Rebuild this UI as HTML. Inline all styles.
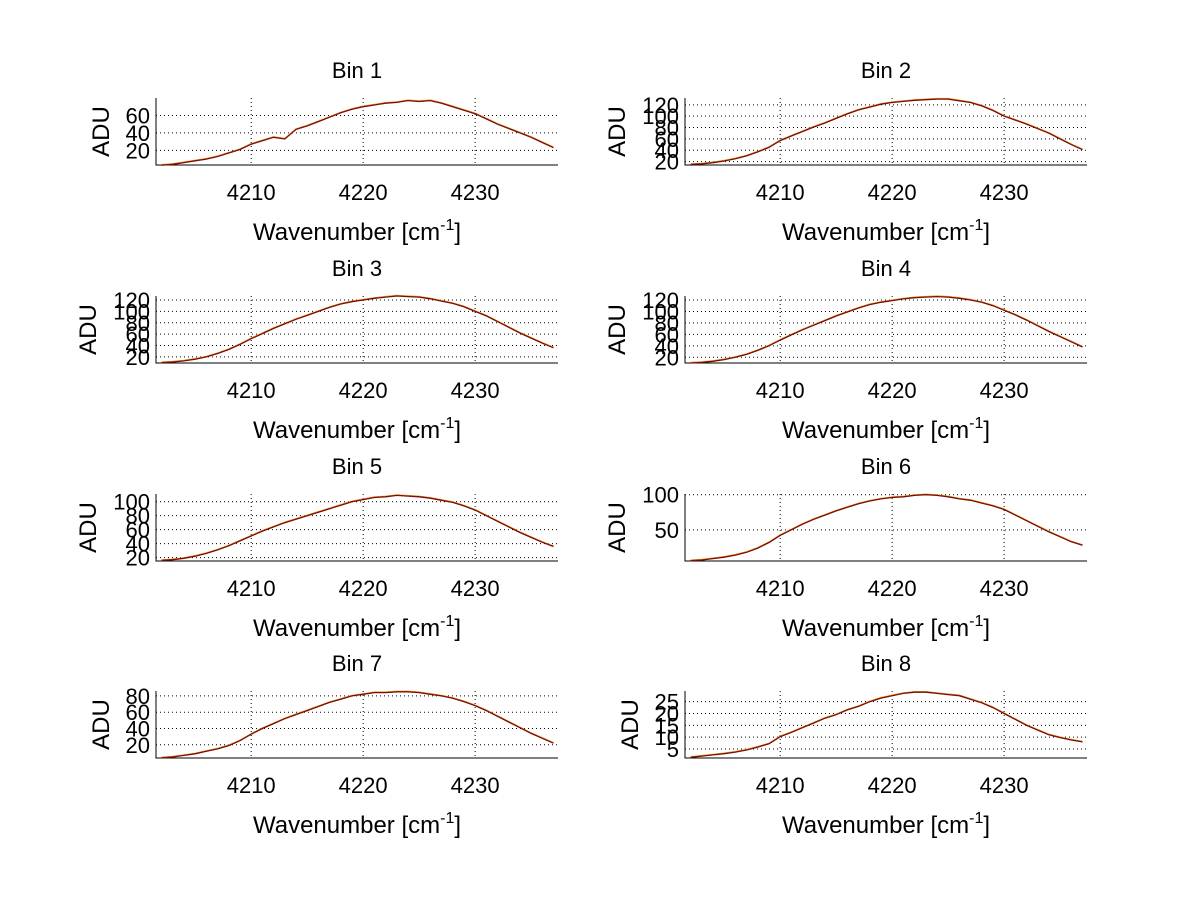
<!DOCTYPE html>
<html><head><meta charset="utf-8"><style>
html,body{margin:0;padding:0;background:#fff;}
svg{display:block;font-family:"Liberation Sans",Arial,sans-serif;}
</style></head><body>
<svg id="fig" width="1200" height="901" viewBox="0 0 1200 901"></svg>
<script>
const wavenumbers=[4202,4203,4204,4205,4206,4207,4208,4209,4210,4211,4212,4213,4214,4215,4216,4217,4218,4219,4220,4221,4222,4223,4224,4225,4226,4227,4228,4229,4230,4231,4232,4233,4234,4235,4236,4237];
const xTicks=[4210,4220,4230];
const bin1=[3,4,6,8,10,13,17,21,27,31,35,33,44,48,53,58,63,67,70,72,74,75,77,76,77,74,70,66,62,56,50,45,40,35,29,23];
const bin2=[15,16,18,21,25,30,37,45,57,65,73,81,88,96,104,111,116,121,124,126,128,129,130,130,127,124,118,110,100,93,86,78,70,60,50,41];
const bin3=[10,11,13,16,20,26,33,42,52,61,70,78,86,93,100,107,113,117,120,123,125,127,126,125,122,118,114,108,100,92,82,72,62,53,44,36];
const bin4=[10,11,13,16,20,25,32,40,50,59,68,76,84,92,99,106,112,116,119,122,124,125,126,125,123,120,116,110,102,94,85,75,65,56,47,38];
const bin5=[16,17,19,22,26,31,37,44,51,58,64,70,75,80,85,90,95,100,103,106,107,109,108,107,105,102,99,94,88,80,72,64,56,49,42,36];
const bin6=[6,7,9,11,14,18,24,32,42,50,58,65,71,77,82,87,91,94,96,97,99,100,99,97,94,92,88,84,79,71,63,55,47,40,33,28];
const bin7=[4,5,7,9,12,15,19,25,33,40,46,52,57,62,67,72,76,80,82,84,84,85,85,84,82,80,77,73,68,62,55,48,41,34,28,22];
const bin8=[1.5,2,2.5,3,3.7,4.6,5.8,7.2,10.2,12,14,16,18,19.5,21.5,23,25,26.5,27.5,28.5,29,29,28.5,28,27.5,26,24.5,22.5,20,17.5,15,13,11,9.8,8.8,8];
const binNames=["Bin 1","Bin 2","Bin 3","Bin 4","Bin 5","Bin 6","Bin 7","Bin 8"];
const binSeries=[bin1,bin2,bin3,bin4,bin5,bin6,bin7,bin8];
const yTicks=[[20,40,60],[20,40,60,80,100,120],[20,40,60,80,100,120],[20,40,60,80,100,120],[20,40,60,80,100],[50,100],[20,40,60,80],[5,10,15,20,25]];
const yLimits=[[3.2,80],[14,132],[9.3,127],[10,127],[15.2,111],[5.6,101],[3.8,86],[1.2,29.5]];
const xLimits=[4201.5,4237.4];

const NS="http://www.w3.org/2000/svg";
const svg=document.getElementById('fig');
function mk(tag,attrs,parent){const e=document.createElementNS(NS,tag);for(const k in attrs)e.setAttribute(k,attrs[k]);(parent||svg).appendChild(e);return e;}
const colX=[156,685], axW=402, rowTop=[98,296,494,691], axH=67;

binSeries.forEach((vals,i)=>{
  const col=i%2,row=Math.floor(i/2);
  const L=colX[col],T=rowTop[row],B=T+axH,R=L+axW;
  const [y0,y1]=yLimits[i];
  const sx=v=>L+(v-xLimits[0])/(xLimits[1]-xLimits[0])*axW;
  const sy=v=>B-(v-y0)/(y1-y0)*axH;
  const g=mk('g',{});
  
  
  yTicks[i].forEach(t=>{
    const l=mk('line',{x1:L,x2:R,y1:sy(t),y2:sy(t),stroke:'#000','stroke-width':1,'stroke-dasharray':'1,3'},g);
    
    
    const tl=mk('text',{x:L-6,y:sy(t)+8,'text-anchor':'end','font-size':22},g);
    tl.textContent=t;
    
    
  });
  xTicks.forEach(t=>{
    const l=mk('line',{x1:sx(t),x2:sx(t),y1:T,y2:B,stroke:'#000','stroke-width':1,'stroke-dasharray':'1,3'},g);
    
    
    const tl=mk('text',{x:sx(t),y:B+35,'text-anchor':'middle','font-size':22},g);
    tl.textContent=t;
    
    
  });
  const ax=mk('path',{d:`M${L},${T}V${B}H${R}`,fill:'none',stroke:'#000','stroke-width':1},g);
  
  
  const pts=wavenumbers.map((w,k)=>`${sx(w).toFixed(1)},${sy(vals[k]).toFixed(1)}`).join(' ');
  const c2=mk('polyline',{points:pts,fill:'none',stroke:'#e8a020','stroke-width':1.2,transform:'translate(0,-0.6)'},g);
  
  
  const c=mk('polyline',{points:pts,fill:'none',stroke:'#7a0c0c','stroke-width':1.3},g);
  
  
  const ti=mk('text',{x:(L+R)/2,y:T-20,'text-anchor':'middle','font-size':22},g);
  ti.textContent=binNames[i];
  
  
  const xl=mk('text',{x:(L+R)/2,y:B+75,'text-anchor':'middle','font-size':24},g);
  xl.innerHTML='Wavenumber [cm<tspan dy="-10" font-size="16">-1</tspan><tspan dy="10">]</tspan>';
  
  
  const wide=yTicks[i].some(t=>t>=100);
  const yx=L-(wide?68:55)+8;
  const yl=mk('text',{x:yx,y:(T+B)/2,'text-anchor':'middle','font-size':24,transform:`rotate(-90 ${yx} ${(T+B)/2})`},g);
  yl.textContent='ADU';
  
  
});
</script>
</body></html>
